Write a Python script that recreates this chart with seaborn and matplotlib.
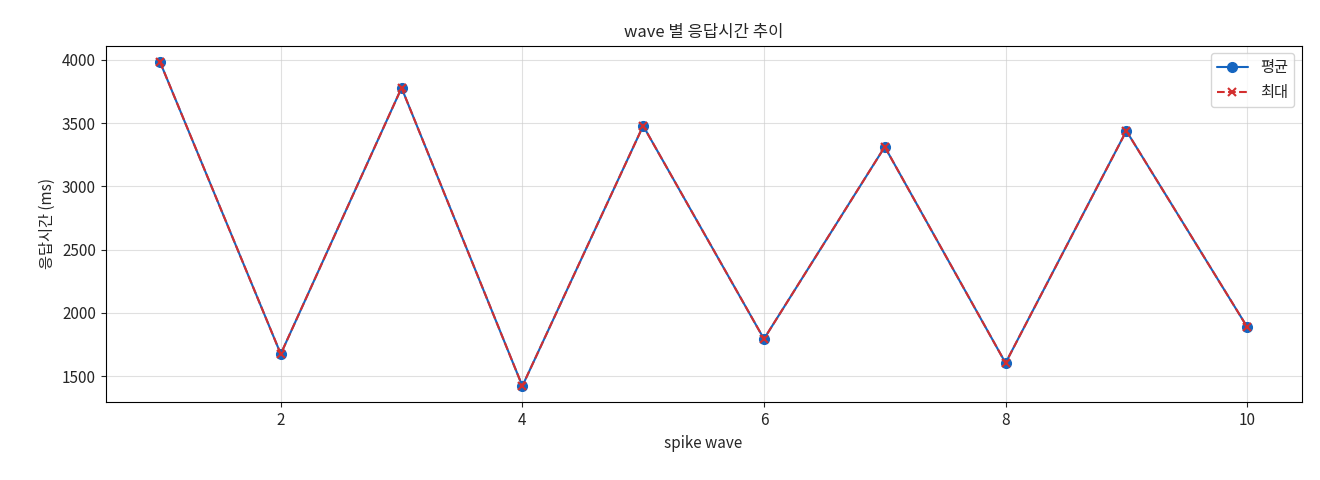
import matplotlib
matplotlib.use("Agg")
import matplotlib.pyplot as plt
import seaborn as sns
import pandas as pd

waves = [1, 2, 3, 4, 5, 6, 7, 8, 9, 10]
avg_ms = [3984, 1674, 3778, 1421, 3478, 1793, 3312, 1603, 3438, 1888]
max_ms = [3984, 1674, 3778, 1421, 3478, 1793, 3312, 1603, 3438, 1888]

sns.set_style("white")
plt.rcParams['font.family'] = ['Noto Sans CJK KR', 'DejaVu Sans']

df = pd.DataFrame({"wave": waves, "avg": avg_ms, "max": max_ms})
fig, ax = plt.subplots(figsize=(13.2, 4.8), dpi=100)
sns.lineplot(data=df, x="wave", y="avg", ax=ax, color="#1565C0", marker="o",
             markersize=7, markeredgecolor="#1565C0", markeredgewidth=1,
             linewidth=1.5, label="평균")
sns.lineplot(data=df, x="wave", y="max", ax=ax, color="#D32F2F", marker="x",
             markersize=6, markeredgecolor="#D32F2F", markeredgewidth=1.5,
             linestyle="--", linewidth=1.5, label="최대")
ax.set_title("wave 별 응답시간 추이", fontsize=12)
ax.set_xlabel("spike wave", fontsize=11)
ax.set_ylabel("응답시간 (ms)", fontsize=11)
ax.tick_params(labelsize=11, left=True, bottom=True)
ax.grid(True, color="#cccccc", alpha=0.6, linewidth=0.8)
for s in ax.spines.values():
    s.set_color("black")
ax.legend(loc="upper right", fontsize=11)
fig.subplots_adjust(left=0.08, right=0.986, top=0.905, bottom=0.162)
fig.savefig("out.png")
